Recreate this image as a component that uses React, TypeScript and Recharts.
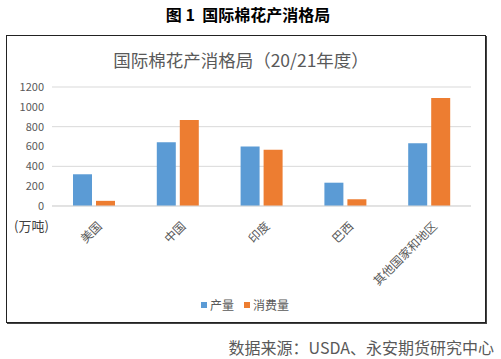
import React from "react";
import { BarChart, Bar, XAxis, YAxis, CartesianGrid } from "recharts";

const regions = ["美国", "中国", "印度", "巴西", "其他国家和地区"];
const production = [320, 642, 600, 235, 632];
const consumption = [52, 868, 566, 68, 1088];
const yTicks = [0, 200, 400, 600, 800, 1000, 1200];

const data = regions.map((name, i) => ({
  name,
  production: production[i],
  consumption: consumption[i],
}));

const BLUE = "#5B9BD5";
const ORANGE = "#ED7D31";
const FONT = '"Noto Sans CJK SC", "Noto Sans", sans-serif';

const RotatedTick = (props: any) => {
  const { x, y, payload } = props;
  return (
    <g transform={`translate(${x + 5},${y + 9})`}>
      <text
        transform="rotate(-45)"
        textAnchor="end"
        dominantBaseline="central"
        fill="#595959"
        fontSize={12}
        fontFamily={FONT}
      >
        {payload.value}
      </text>
    </g>
  );
};

export default function App() {
  return (
    <div
      style={{
        position: "absolute",
        left: 0,
        top: 0,
        width: 501,
        height: 359,
        background: "#fff",
        fontFamily: FONT,
      }}
    >
      <div
        style={{
          position: "absolute",
          left: 0,
          width: 496,
          top: 2,
          textAlign: "center",
          fontSize: 16,
          fontWeight: "bold",
          color: "#000",
          whiteSpace: "pre",
        }}
      >
        {"图 1  国际棉花产消格局"}
      </div>

      <div
        style={{
          position: "absolute",
          left: 6,
          top: 35,
          width: 478,
          height: 286,
          border: "1px solid #222",
          boxShadow: "1px 1px 0 #444",
        }}
      />

      <div
        style={{
          position: "absolute",
          left: 0,
          width: 482,
          top: 47,
          textAlign: "center",
          fontSize: 17.5,
          color: "#595959",
        }}
      >
        国际棉花产消格局（20/21年度）
      </div>

      <div style={{ position: "absolute", left: 0, top: 0 }}>
        <BarChart
          width={501}
          height={359}
          data={data}
          margin={{ top: 87, right: 30, bottom: 73, left: 4 }}
          barSize={19}
          barGap={4}
        >
          <CartesianGrid vertical={false} stroke="#D9D9D9" />
          <XAxis
            dataKey="name"
            interval={0}
            tickLine={false}
            axisLine={{ stroke: "#D9D9D9" }}
            tick={<RotatedTick />}
            height={80}
          />
          <YAxis
            domain={[0, 1200]}
            ticks={yTicks}
            width={48}
            axisLine={false}
            tickLine={false}
            tick={{ fill: "#595959", fontSize: 11, fontFamily: FONT }}
          />
          <Bar dataKey="production" fill={BLUE} isAnimationActive={false} />
          <Bar dataKey="consumption" fill={ORANGE} isAnimationActive={false} />
        </BarChart>
      </div>

      <div
        style={{
          position: "absolute",
          left: 14,
          top: 216,
          fontSize: 13,
          color: "#404040",
        }}
      >
        (万吨)
      </div>

      <div
        style={{
          position: "absolute",
          left: 201,
          top: 296,
          display: "flex",
          alignItems: "center",
          fontSize: 12,
          color: "#595959",
        }}
      >
        <span style={{ width: 6, height: 6, background: BLUE, marginRight: 3 }} />
        <span style={{ marginRight: 10 }}>产量</span>
        <span style={{ width: 6, height: 6, background: ORANGE, marginRight: 3 }} />
        <span>消费量</span>
      </div>

      <div
        style={{
          position: "absolute",
          right: 7,
          top: 337,
          fontSize: 16,
          color: "#595959",
          lineHeight: "20px",
        }}
      >
        数据来源：USDA、永安期货研究中心
      </div>
    </div>
  );
}
